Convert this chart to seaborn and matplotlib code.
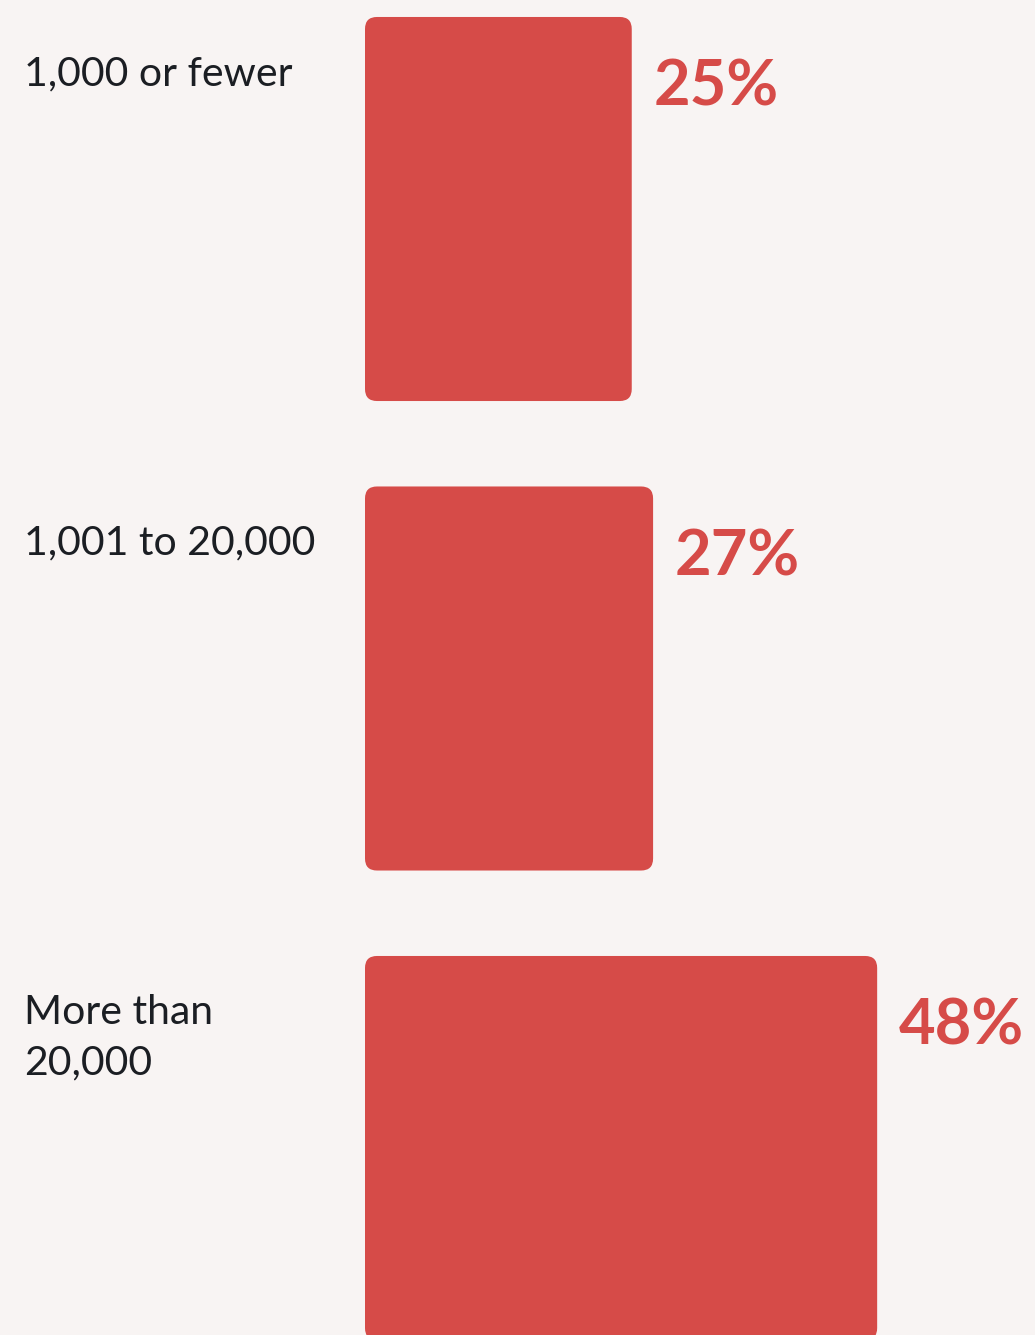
import matplotlib
matplotlib.use("Agg")
import matplotlib.pyplot as plt
from matplotlib.patches import FancyBboxPatch
import matplotlib.transforms as mtransforms
import seaborn as sns
import pandas as pd

# Share of respondents by organisation size
categories = ["1,000 or fewer", "1,001 to 20,000", "More than\n20,000"]
values = [25, 27, 48]
value_labels = ["25%", "27%", "48%"]

BG = "#f8f4f3"
BAR = "#d64b48"
INK = "#1b1e23"

sns.set_theme(style="white")
plt.rcParams["font.family"] = ["Lato", "DejaVu Sans"]

W, H = 1035, 1335
fig = plt.figure(figsize=(W / 100, H / 100), dpi=100, facecolor=BG)
ax = fig.add_axes([365 / W, 0, (W - 365) / W, 1])
ax.set_facecolor(BG)

df = pd.DataFrame({"group": categories, "share": values})
bar_frac = 0.818
sns.barplot(data=df, x="share", y="group", orient="h", color=BAR,
            width=bar_frac, saturation=1, ax=ax)

px_per_x = 10.67
px_per_y = 469.5
ax.set_xlim(0, (W - 365) / px_per_x)
top = -209 / px_per_y
ax.set_ylim(top + H / px_per_y, top)

# swap the square bars for rounded ones
radius_px = 12
rx = radius_px / px_per_x
aspect = (radius_px / px_per_y) / rx
for p in list(ax.patches):
    x0, y0 = p.get_x(), p.get_y()
    w, h = p.get_width(), p.get_height()
    p.remove()
    ax.add_patch(FancyBboxPatch((x0, y0), w, h,
                                boxstyle=f"round,pad=0,rounding_size={rx}",
                                mutation_aspect=aspect,
                                facecolor=BAR, edgecolor="none"))

label_tf = mtransforms.blended_transform_factory(fig.transFigure, ax.transData)
half = bar_frac / 2
line_gap_px = 50
for i, (cat, v, lab) in enumerate(zip(categories, values, value_labels)):
    bar_top = i - half
    for k, line in enumerate(cat.split("\n")):
        ax.text(24 / W, bar_top + (68 + k * line_gap_px) / px_per_y, line,
                transform=label_tf, ha="left", va="baseline",
                fontsize=29.5, color=INK)
    ax.text(v + 22 / px_per_x, bar_top + 89 / px_per_y, lab,
            ha="left", va="baseline", fontsize=45.5, fontweight="bold",
            color=BAR)

ax.set_xlabel("")
ax.set_ylabel("")
ax.set_xticks([])
ax.set_yticks([])
for s in ax.spines.values():
    s.set_visible(False)

fig.savefig("out.png", dpi=100, facecolor=BG)
